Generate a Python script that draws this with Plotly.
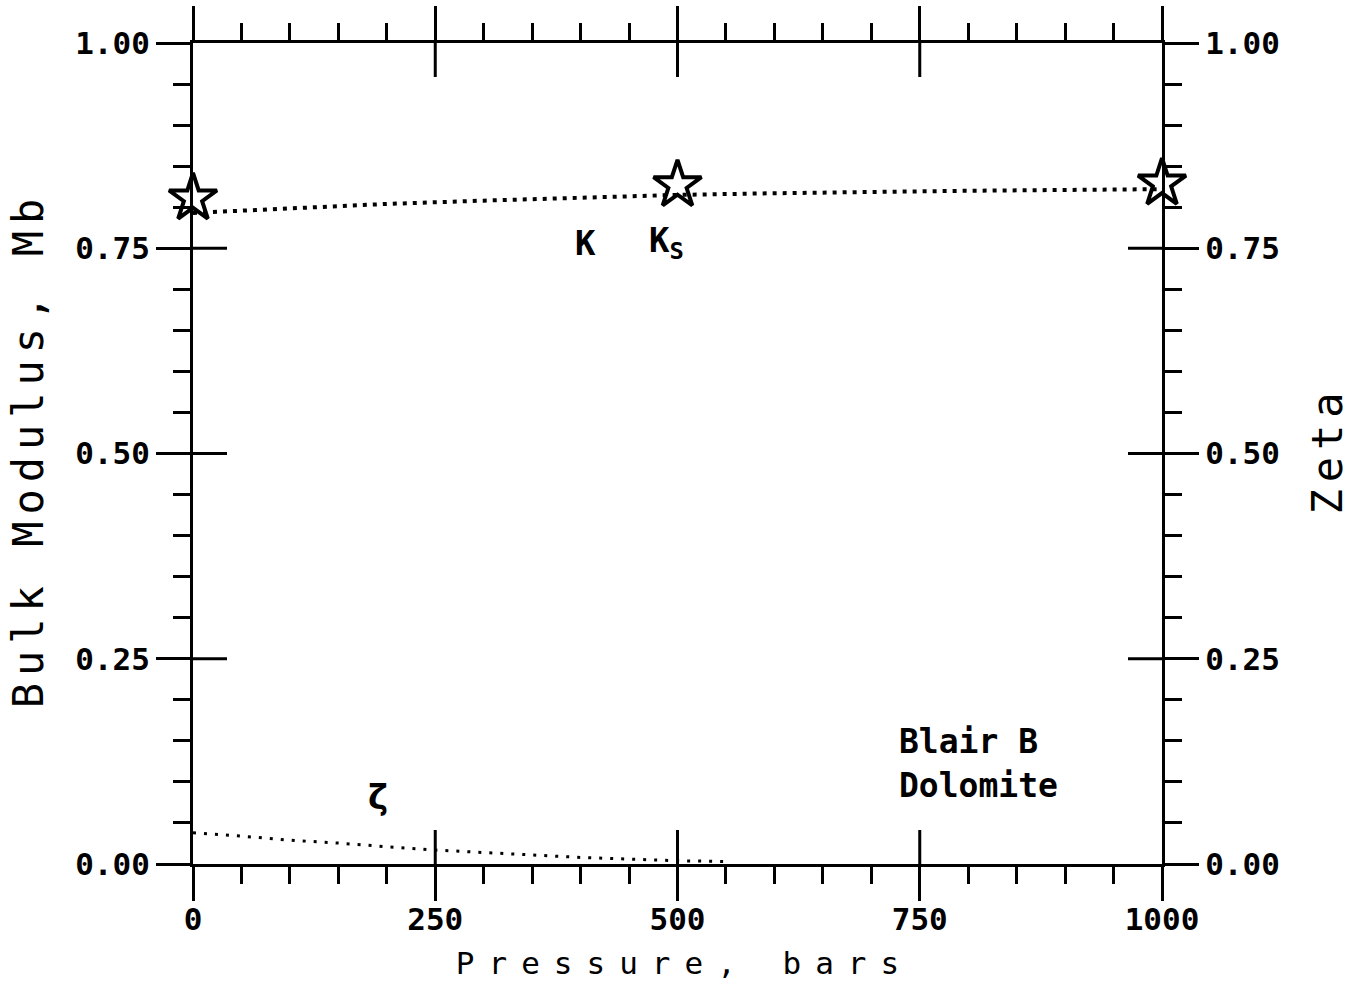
import plotly.graph_objects as go

# Bulk modulus K of the rock frame vs. confining pressure (dotted curve)
k_pressure = [0, 100, 200, 300, 400, 500, 600, 700, 800, 900, 1000]
k_values = [0.793, 0.799, 0.804, 0.808, 0.812, 0.815, 0.817, 0.819, 0.820, 0.821, 0.822]

# Grain (solid) modulus Ks, measured points (stars)
ks_pressure = [0, 500, 1000]
ks_values = [0.811, 0.827, 0.829]

# Zeta parameter vs. pressure (right axis)
zeta_pressure = [0, 50, 100, 150, 200, 250, 300, 350, 400, 450, 500, 550]
zeta_values = [0.038, 0.034, 0.029, 0.0255, 0.021, 0.017, 0.014, 0.011, 0.008, 0.006, 0.004, 0.003]

x_major = [0, 250, 500, 750, 1000]
x_major_text = ["0", "250", "500", "750", "1000"]
y_major = [0.0, 0.25, 0.5, 0.75, 1.0]
y_major_text = ["0.00", "0.25", "0.50", "0.75", "1.00"]

X_RANGE = [0, 1000]
Y_RANGE = [0, 1]

MONO = "DejaVu Sans Mono"
INK = "black"
tick_font = dict(family=MONO, size=31, color=INK, weight="bold")
xtitle_font = dict(family=MONO, size=31, color=INK)
ytitle_font = dict(family=MONO, size=42, color=INK)
MAJOR_LEN = 34


def spaced(text, px):
    # widen the letter pitch, no extra gap after the last character
    return f'<span style="letter-spacing:{px}px">{text[:-1]}</span>{text[-1]}'


fig = go.Figure()

fig.add_trace(go.Scatter(
    x=k_pressure, y=k_values, mode="lines",
    line=dict(color=INK, width=4, dash="4px,6px"),
    xaxis="x", yaxis="y", hoverinfo="skip", cliponaxis=False,
))
fig.add_trace(go.Scatter(
    x=ks_pressure, y=ks_values, mode="markers",
    marker=dict(symbol="star-open", size=36, color=INK, line=dict(color=INK, width=4)),
    xaxis="x", yaxis="y", cliponaxis=False,
))
fig.add_trace(go.Scatter(
    x=zeta_pressure, y=zeta_values, mode="lines",
    line=dict(color=INK, width=3, dash="3px,8px"),
    xaxis="x", yaxis="y2", hoverinfo="skip", cliponaxis=False,
))

minor_common = dict(ticks="outside", ticklen=17, tickwidth=3, tickcolor=INK, showgrid=False)

fig.update_layout(
    width=1362, height=994,
    margin=dict(l=193, r=200, t=43, b=130),
    paper_bgcolor="white", plot_bgcolor="white",
    showlegend=False,
    xaxis=dict(
        range=X_RANGE, showgrid=False, zeroline=False, automargin=False,
        showline=True, linewidth=3, linecolor=INK, mirror="ticks",
        tickmode="array", tickvals=x_major, ticktext=x_major_text,
        ticks="outside", ticklen=MAJOR_LEN, tickwidth=3, tickcolor=INK,
        tickfont=tick_font, ticklabelstandoff=-8,
        minor=dict(dtick=50, tick0=0, **minor_common),
        title=dict(text=spaced("Pressure, bars", 14), font=xtitle_font, standoff=17),
    ),
    yaxis=dict(
        range=Y_RANGE, showgrid=False, zeroline=False, automargin=False,
        showline=True, linewidth=3, linecolor=INK,
        tickmode="array", tickvals=y_major, ticktext=y_major_text,
        ticks="outside", ticklen=MAJOR_LEN, tickwidth=3, tickcolor=INK,
        tickfont=tick_font,
        minor=dict(dtick=0.05, tick0=0, **minor_common),
        title=dict(text=spaced("Bulk Modulus, Mb", 7), font=ytitle_font, standoff=19),
    ),
    yaxis2=dict(
        range=Y_RANGE, overlaying="y", side="right", anchor="x", showgrid=False, zeroline=False,
        showline=True, linewidth=3, linecolor=INK, automargin=False,
        tickmode="array", tickvals=y_major, ticktext=y_major_text,
        ticks="outside", ticklen=MAJOR_LEN, tickwidth=3, tickcolor=INK,
        tickfont=tick_font,
        minor=dict(dtick=0.05, tick0=0, **minor_common),
        title=dict(text=spaced("Zeta", 7), font=ytitle_font, standoff=34),
    ),
)

# inner halves of the major ticks, so that they cross the frame
# (the ones at the range ends would lie on the frame itself)
tick_line = dict(color=INK, width=3)
for xv in x_major:
    if xv in X_RANGE:
        continue
    fig.add_shape(type="line", xref="x", yref="y", x0=xv, x1=xv,
                  ysizemode="pixel", yanchor=Y_RANGE[0], y0=0, y1=MAJOR_LEN, line=tick_line)
    fig.add_shape(type="line", xref="x", yref="y", x0=xv, x1=xv,
                  ysizemode="pixel", yanchor=Y_RANGE[1], y0=0, y1=-MAJOR_LEN, line=tick_line)
for yv in y_major:
    if yv in Y_RANGE:
        continue
    fig.add_shape(type="line", xref="x", yref="y", y0=yv, y1=yv,
                  xsizemode="pixel", xanchor=X_RANGE[0], x0=0, x1=MAJOR_LEN, line=tick_line)
    fig.add_shape(type="line", xref="x", yref="y", y0=yv, y1=yv,
                  xsizemode="pixel", xanchor=X_RANGE[1], x0=0, x1=-MAJOR_LEN, line=tick_line)

label_font = dict(family=MONO, size=34, color=INK, weight="bold")
note_font = dict(family=MONO, size=33, color=INK, weight="bold")

fig.add_annotation(x=405, y=0.757, xref="x", yref="y", text="K", showarrow=False,
                   font=label_font, xanchor="center", yanchor="middle")
fig.add_annotation(x=469, y=0.757, xref="x", yref="y", text="K<sub>S</sub>", showarrow=False,
                   font=label_font, xanchor="left", yanchor="middle")
fig.add_annotation(x=191, y=0.082, xref="x", yref="y", text="ζ", showarrow=False,
                   font=dict(family="DejaVu Sans", size=34, color=INK, weight="bold"),
                   xanchor="center", yanchor="middle")
fig.add_annotation(x=727, y=0.149, xref="x", yref="y", text="Blair B", showarrow=False,
                   font=note_font, xanchor="left", yanchor="middle")
fig.add_annotation(x=727, y=0.096, xref="x", yref="y", text="Dolomite", showarrow=False,
                   font=note_font, xanchor="left", yanchor="middle")

fig.write_html("out.html")
